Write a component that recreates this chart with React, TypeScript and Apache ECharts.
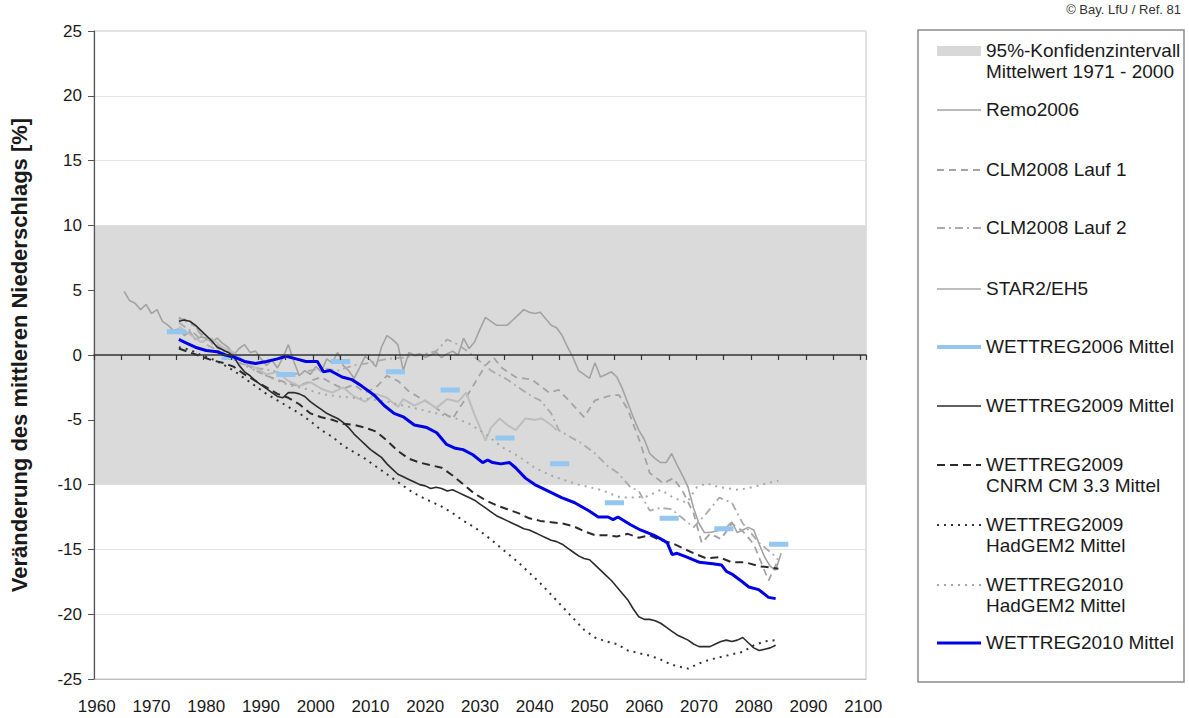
import React, { useEffect, useRef } from "react";
import * as echarts from "echarts";

// ---------- data ----------
const xLabelYears = [1960, 1970, 1980, 1990, 2000, 2010, 2020, 2030, 2040, 2050, 2060, 2070, 2080, 2090, 2100];
const yTicks = { min: -25, max: 25, step: 5 };
const confidenceBand = [-10, 10];

const remo2006 = [[1965,4.9],[1966,4.2],[1967,4.0],[1968,3.5],[1969,3.9],[1970,3.2],[1971,3.5],[1972,2.6],[1973,2.3],[1974,1.9],[1975,2.0],[1976,1.5],[1977,1.8],[1978,1.2],[1979,1.4],[1980,1.3],[1981,1.0],[1982,1.3],[1983,0.9],[1984,0.6],[1985,0.0],[1986,0.5],[1987,0.8],[1988,0.2],[1989,0.3],[1990,-0.3],[1991,-0.8],[1992,-0.4],[1993,-1.0],[1994,-0.2],[1995,0.8],[1996,-0.5],[1997,-1.6],[1998,-1.2],[1999,-1.5],[2000,-0.9],[2001,-1.3],[2002,-0.3],[2003,-0.6],[2004,0.2],[2005,-0.8],[2006,-1.2],[2007,-1.8],[2008,-1.0],[2009,-0.1],[2010,-0.4],[2011,-0.9],[2012,0.6],[2013,1.5],[2014,1.2],[2015,0.8],[2016,-1.2],[2017,0.2],[2018,0.0],[2019,0.1],[2020,-0.2],[2021,0.0],[2022,0.2],[2023,-0.2],[2024,0.1],[2025,0.3],[2026,0.0],[2027,1.3],[2028,0.5],[2029,1.0],[2030,2.0],[2031,2.9],[2032,2.6],[2033,2.3],[2034,2.3],[2035,2.3],[2036,2.7],[2037,3.1],[2038,3.5],[2039,3.3],[2040,3.2],[2041,3.3],[2042,2.8],[2043,2.3],[2044,2.1],[2045,1.5],[2046,0.6],[2047,-0.2],[2048,-1.2],[2049,-1.5],[2050,-1.8],[2051,-0.6],[2052,-1.7],[2053,-1.5],[2054,-1.3],[2055,-1.7],[2056,-2.6],[2057,-3.7],[2058,-4.8],[2059,-5.8],[2060,-6.5],[2061,-7.6],[2062,-8.0],[2063,-8.3],[2064,-8.3],[2065,-7.6],[2066,-8.5],[2067,-9.3],[2068,-10.2],[2069,-11.8],[2070,-13.0],[2071,-13.7],[2072,-13.7],[2073,-13.6],[2074,-13.5],[2075,-13.3],[2076,-12.9],[2077,-13.7],[2078,-13.5],[2079,-13.3],[2080,-13.5],[2081,-14.6],[2082,-15.6],[2083,-16.3],[2084,-16.6],[2085,-15.3]];

const clm2008Lauf1 = [[1975,2.8],[1977,2.7],[1979,1.6],[1981,1.0],[1983,0.5],[1985,0.1],[1987,-0.6],[1989,-1.2],[1991,-1.6],[1993,-1.9],[1995,-2.2],[1997,-2.4],[1999,-2.0],[2001,-1.7],[2003,-2.2],[2005,-2.6],[2007,-2.3],[2009,-2.9],[2011,-2.5],[2013,-1.6],[2015,-2.0],[2017,-2.8],[2019,-3.3],[2021,-3.8],[2023,-4.4],[2025,-4.9],[2027,-3.6],[2029,-2.2],[2031,-0.8],[2032.5,-0.2],[2034,-1.0],[2036.5,-1.7],[2039.5,-1.9],[2042.6,-2.9],[2044.4,-2.7],[2047.3,-4.0],[2049,-4.8],[2051,-3.5],[2054,-3.1],[2055.4,-3.1],[2057,-4.2],[2059.3,-6.8],[2061,-9.1],[2063.5,-9.9],[2065.3,-9.5],[2067,-10.5],[2069,-12.2],[2070.5,-14.5],[2072,-13.8],[2074,-14.2],[2076,-13.0],[2078,-13.6],[2080,-14.6],[2082.7,-17.4],[2084.5,-15.8]];

const clm2008Lauf2 = [[1975,2.5],[1978,1.6],[1980,0.8],[1983,0.2],[1986,-0.6],[1989,-1.0],[1992,-1.2],[1995,-1.6],[1998,-1.3],[2001,-1.0],[2004,-1.2],[2007,-0.8],[2010,-0.6],[2013,-0.3],[2016,-0.2],[2019,0.0],[2022,0.3],[2024,1.2],[2026,0.8],[2028,0.2],[2030,-0.5],[2032,-1.2],[2035,-1.9],[2037,-2.5],[2039.5,-3.2],[2041,-3.5],[2043,-4.5],[2044.4,-5.8],[2046,-6.2],[2048.5,-6.8],[2051,-7.6],[2053.4,-8.6],[2055.2,-9.1],[2057.5,-10.2],[2059,-10.5],[2061,-12.0],[2063,-11.8],[2065,-11.9],[2067,-12.6],[2069,-13.3],[2071.4,-12.2],[2073.7,-11.0],[2076,-11.4],[2078,-13.0],[2081,-14.5],[2083.3,-15.3],[2084.5,-15.8]];

const star2Eh5 = [[1975,2.2],[1977,1.6],[1979,1.0],[1981,1.3],[1983,0.6],[1985,0.2],[1987,-0.5],[1989,-1.0],[1991,-1.5],[1993,-1.3],[1995,-2.0],[1997,-2.4],[1999,-2.1],[2001,-2.6],[2003,-2.9],[2005,-2.5],[2007,-3.2],[2009,-3.6],[2011,-3.0],[2013,-3.3],[2015,-4.0],[2016,-3.4],[2018,-3.9],[2020,-3.5],[2022,-4.1],[2024,-3.4],[2026,-3.6],[2027.5,-2.9],[2029,-4.6],[2031,-6.6],[2032,-5.6],[2033.6,-4.9],[2035,-5.4],[2036.5,-5.8],[2038.3,-4.9],[2040,-5.0],[2041.3,-4.9],[2043,-5.4],[2044,-5.8]];

const wettreg2006Years = [1975, 1985, 1995, 2005, 2015, 2025, 2035, 2045, 2055, 2065, 2075, 2085];
const wettreg2006Values = [1.8, -0.2, -1.5, -0.5, -1.3, -2.7, -6.4, -8.4, -11.4, -12.6, -13.4, -14.6];

const wettreg2009 = [[1975,2.6],[1976,2.7],[1977,2.6],[1978,2.3],[1979,1.9],[1980,1.5],[1981,1.1],[1982,0.6],[1983,0.4],[1984,0.2],[1985,-0.1],[1986,-0.8],[1987,-1.3],[1988,-1.6],[1989,-2.0],[1990,-2.3],[1991,-2.6],[1992,-2.9],[1993,-3.2],[1994,-3.3],[1995,-2.9],[1996,-2.9],[1997,-3.0],[1998,-3.2],[1999,-3.6],[2000,-3.9],[2001,-4.2],[2002,-4.5],[2003,-4.7],[2004,-4.9],[2005,-5.2],[2006,-5.6],[2007,-6.1],[2008,-6.5],[2009,-6.9],[2010,-7.3],[2011,-7.6],[2012,-7.9],[2013,-8.4],[2014,-8.8],[2015,-9.2],[2016,-9.4],[2017,-9.6],[2018,-9.8],[2019,-10.0],[2020,-10.1],[2021,-10.3],[2022,-10.2],[2023,-10.3],[2024,-10.5],[2025,-10.4],[2026,-10.6],[2027,-10.8],[2028,-11.0],[2029,-11.2],[2030,-11.5],[2031,-11.8],[2032,-12.1],[2033,-12.4],[2034,-12.6],[2035,-12.8],[2036,-13.0],[2037,-13.2],[2038,-13.4],[2039,-13.5],[2040,-13.7],[2041,-13.9],[2042,-14.1],[2043,-14.3],[2044,-14.4],[2045,-14.6],[2046,-14.9],[2047,-15.2],[2048,-15.5],[2049,-15.7],[2050,-15.8],[2051,-16.2],[2052,-16.6],[2053,-17.0],[2054,-17.4],[2055,-17.9],[2056,-18.4],[2057,-18.9],[2058,-19.6],[2059,-20.2],[2060,-20.4],[2061,-20.4],[2062,-20.5],[2063,-20.7],[2064,-21.0],[2065,-21.3],[2066,-21.6],[2067,-21.8],[2068,-22.0],[2069,-22.3],[2070,-22.5],[2071,-22.5],[2072,-22.5],[2073,-22.3],[2074,-22.1],[2075,-22.0],[2076,-22.1],[2077,-22.0],[2078,-21.8],[2079,-22.2],[2080,-22.6],[2081,-22.8],[2082,-22.7],[2083,-22.6],[2084,-22.4]];

const wettreg2009Cnrm = [[1975,0.5],[1977,0.2],[1979,-0.1],[1981,-0.4],[1983,-0.6],[1985,-0.9],[1987,-1.5],[1989,-2.0],[1991,-2.5],[1993,-3.0],[1995,-3.3],[1997,-3.8],[1999,-4.5],[2001,-4.8],[2003,-5.0],[2005,-5.3],[2007,-5.4],[2009,-5.6],[2011,-5.9],[2013,-6.6],[2015,-7.4],[2017,-8.0],[2019,-8.3],[2021,-8.5],[2023,-8.7],[2025,-9.3],[2027,-10.0],[2029,-10.7],[2031,-11.2],[2033,-11.6],[2035,-11.9],[2037,-12.2],[2039,-12.6],[2041,-12.8],[2043,-12.9],[2045,-13.0],[2047,-13.2],[2049,-13.6],[2051,-13.9],[2053,-13.9],[2055,-14.0],[2057,-13.8],[2059,-14.1],[2061,-13.9],[2063,-14.3],[2065,-14.5],[2067,-14.9],[2069.6,-15.4],[2071.4,-15.7],[2073.7,-15.6],[2076,-16.0],[2078.5,-16.0],[2081,-16.3],[2083.3,-16.4],[2084.5,-16.5]];

const wettreg2009HadGem2 = [[1975,0.6],[1977,0.4],[1979,0.0],[1981,-0.3],[1983,-0.7],[1985,-1.2],[1987,-1.8],[1989,-2.4],[1991,-3.0],[1993,-3.5],[1995,-4.0],[1997,-4.5],[1999,-5.1],[2001,-5.8],[2003,-6.3],[2005,-7.0],[2007,-7.5],[2009,-8.0],[2011,-8.6],[2013,-9.2],[2015,-9.8],[2017,-10.4],[2019,-10.9],[2021,-11.3],[2023,-11.7],[2025,-12.2],[2027,-12.8],[2029,-13.3],[2031,-13.9],[2033,-14.6],[2035,-15.3],[2037,-16.0],[2039,-16.8],[2041,-17.6],[2043,-18.5],[2045,-19.4],[2047,-20.3],[2049,-21.2],[2051,-21.8],[2053,-22.1],[2055,-22.3],[2057,-22.8],[2059,-23.0],[2061,-23.2],[2063,-23.5],[2065,-23.9],[2067,-24.1],[2068,-24.2],[2070,-23.8],[2072,-23.5],[2074,-23.3],[2076,-23.1],[2078,-22.9],[2080,-22.4],[2082,-22.1],[2084,-22.0]];

const wettreg2010HadGem2 = [[1975,2.9],[1978,2.2],[1980,1.2],[1983,0.3],[1986,-0.6],[1989,-1.2],[1992,-1.8],[1995,-2.3],[1998,-2.6],[2001,-3.0],[2004,-3.2],[2007,-3.3],[2010,-3.4],[2013,-3.6],[2016,-3.9],[2019,-4.2],[2022,-4.5],[2025,-4.8],[2028,-5.3],[2031,-6.1],[2034,-7.1],[2037,-7.8],[2040,-8.7],[2043,-9.3],[2045,-9.6],[2048,-10.0],[2052,-10.4],[2055.7,-11.0],[2058,-11.0],[2060.6,-10.9],[2063,-10.4],[2065.3,-11.0],[2067.8,-11.4],[2069.6,-10.2],[2071.4,-9.9],[2073.7,-10.2],[2077.3,-10.4],[2079.7,-10.2],[2083.3,-9.8],[2084.5,-9.7]];

const wettreg2010 = [[1975,1.2],[1976,1.0],[1978,0.6],[1980,0.35],[1982,0.25],[1983.5,0.0],[1985,-0.15],[1987,-0.5],[1989,-0.65],[1991,-0.5],[1993,-0.3],[1994.6,-0.1],[1996.4,-0.3],[1998.2,-0.5],[2000.3,-0.5],[2001.4,-1.3],[2002.6,-1.2],[2004.8,-1.7],[2006.6,-1.9],[2008.4,-2.4],[2010.7,-3.1],[2012.5,-3.9],[2014.3,-4.5],[2016.1,-4.8],[2018,-5.4],[2020.3,-5.6],[2022.1,-6.0],[2023.9,-6.9],[2025.5,-7.2],[2026.9,-7.3],[2028.7,-7.7],[2030.5,-8.3],[2031.4,-8.1],[2032.3,-8.3],[2033.8,-8.4],[2035.4,-8.3],[2036.5,-8.7],[2038.3,-9.5],[2040,-10.0],[2042,-10.4],[2044.9,-11.0],[2047.3,-11.4],[2049.8,-12.0],[2051.6,-12.5],[2053.4,-12.5],[2054.3,-12.7],[2055.2,-12.5],[2057.5,-13.1],[2059.3,-13.5],[2061.7,-13.9],[2063.5,-14.3],[2064.2,-14.5],[2065.1,-15.4],[2066,-15.3],[2067.8,-15.6],[2070.1,-16.0],[2072.5,-16.1],[2074.1,-16.2],[2075,-16.7],[2076,-16.9],[2077.9,-17.5],[2079.1,-17.9],[2080.9,-18.1],[2082.7,-18.7],[2084,-18.8]];

const legendLabels = [
  "95%-Konfidenzintervall\nMittelwert 1971 - 2000",
  "Remo2006",
  "CLM2008 Lauf 1",
  "CLM2008 Lauf 2",
  "STAR2/EH5",
  "WETTREG2006 Mittel",
  "WETTREG2009 Mittel",
  "WETTREG2009\nCNRM CM 3.3 Mittel",
  "WETTREG2009\nHadGEM2 Mittel",
  "WETTREG2010\nHadGEM2 Mittel",
  "WETTREG2010 Mittel",
];

// ---------- styles ----------
const FONT = "'Liberation Sans', Arial, Helvetica, sans-serif";
const styles = [
  { kind: "rect", color: "#d8d8d8" },
  { color: "#a3a3a3", width: 1.6, dash: null },
  { color: "#a3a3a3", width: 1.8, dash: [7, 5] },
  { color: "#ababab", width: 1.8, dash: [8, 4, 2, 4] },
  { color: "#bdbdbd", width: 2, dash: null },
  { color: "#94c6f0", width: 5, dash: null },
  { color: "#2b2b2b", width: 1.6, dash: null },
  { color: "#2b2b2b", width: 2, dash: [8, 5] },
  { color: "#333333", width: 2, dash: [2, 5] },
  { color: "#a8a8a8", width: 2, dash: [2, 5] },
  { color: "#0000e6", width: 3, dash: null },
];
const legendRowY = [51, 110, 170, 228, 289, 347, 406, 465, 525, 585, 643];

function buildSegments(years: number[], values: number[]) {
  const out: any[] = [];
  years.forEach((y, i) => {
    out.push([y - 2.2, values[i]]);
    out.push([y + 1.3, values[i]]);
    out.push([y + 1.3, "-"]);
  });
  return out;
}

export default function App() {
  const ref = useRef<HTMLDivElement>(null);
  useEffect(() => {
    if (!ref.current) return;
    const chart = echarts.init(ref.current, null, { renderer: "svg" });

    const line = (name: string, data: any[], idx: number, z: number) => {
      const s: any = styles[idx];
      return {
        type: "line",
        name,
        data,
        xAxisIndex: 0,
        yAxisIndex: 0,
        showSymbol: false,
        symbol: "none",
        silent: true,
        connectNulls: false,
        z,
        lineStyle: { color: s.color, width: s.width, type: s.dash || "solid", cap: "butt" },
      };
    };

    const graphic: any[] = [
      {
        type: "text",
        right: 8,
        top: 3,
        style: { text: "© Bay. LfU / Ref. 81", fontSize: 13, fontFamily: FONT, fill: "#333" },
      },
      {
        type: "rect",
        shape: { x: 918, y: 30, width: 266, height: 652 },
        style: { fill: "#ffffff", stroke: "#8c8c8c", lineWidth: 1.5 },
        z: 10,
      },
    ];
    legendLabels.forEach((label, i) => {
      const y = legendRowY[i];
      const s: any = styles[i];
      if (s.kind === "rect") {
        graphic.push({
          type: "rect",
          shape: { x: 937, y: y - 5, width: 44, height: 10 },
          style: { fill: s.color },
          z: 11,
        });
      } else {
        graphic.push({
          type: "line",
          shape: { x1: 937, y1: y, x2: 981, y2: y },
          style: { stroke: s.color, lineWidth: s.width === 5 ? 4 : s.width, lineDash: s.dash || null },
          z: 11,
        });
      }
      graphic.push({
        type: "text",
        x: 986,
        y: y - 11,
        style: {
          text: label,
          fontSize: 19,
          lineHeight: 21,
          fontFamily: FONT,
          fill: "#1a1a1a",
          verticalAlign: "top",
          textAlign: "left",
        },
        z: 11,
      });
    });

    chart.setOption({
      animation: false,
      textStyle: { fontFamily: FONT },
      grid: { left: 88, right: 323, top: 31, bottom: 39, show: true, borderColor: "#c4c4c4", borderWidth: 1, backgroundColor: "transparent" },
      xAxis: [
        {
          type: "value",
          min: 1959.5,
          max: 2100.5,
          position: "bottom",
          axisLine: { show: true, onZero: false, lineStyle: { color: "#bdbdbd" } },
          axisTick: { show: false },
          splitLine: { show: false },
          axisLabel: {
            customValues: xLabelYears,
            formatter: (v: number) => String(Math.round(v)),
            margin: 19,
            fontSize: 17,
            color: "#1a1a1a",
            fontFamily: FONT,
          },
        },
        {
          type: "value",
          min: 1959.5,
          max: 2100.5,
          interval: 5,
          position: "bottom",
          z: 6,
          axisLine: { show: true, onZero: true, onZeroAxisIndex: 0, lineStyle: { color: "#333", width: 1.5 } },
          axisTick: { show: true, length: 5, inside: false, lineStyle: { color: "#333", width: 1.2 } },
          axisLabel: { show: false },
          splitLine: { show: false },
        },
      ],
      yAxis: [
        {
          type: "value",
          min: yTicks.min,
          max: yTicks.max,
          interval: yTicks.step,
          z: 6,
          axisLine: { show: true, onZero: false, lineStyle: { color: "#555", width: 1.2 } },
          axisTick: { show: true, length: 6, lineStyle: { color: "#555" } },
          axisLabel: { fontSize: 17, color: "#1a1a1a", margin: 12, fontFamily: FONT },
          splitLine: { show: false },
          name: "Veränderung des mittleren Niederschlags [%]",
          nameLocation: "middle",
          nameGap: 64,
          nameRotate: 90,
          nameTextStyle: { fontWeight: "bold", fontSize: 22, color: "#1a1a1a", fontFamily: FONT },
        },
        {
          type: "value",
          min: yTicks.min,
          max: yTicks.max,
          interval: yTicks.step,
          position: "right",
          z: 0,
          axisLine: { show: false },
          axisTick: { show: false },
          axisLabel: { show: false },
          splitLine: { show: true, lineStyle: { color: "#e4e4e4", width: 1 } },
        },
      ],
      series: [
        {
          type: "line",
          name: "band",
          data: [],
          xAxisIndex: 0,
          yAxisIndex: 0,
          silent: true,
          z: 1,
          markArea: {
            silent: true,
            itemStyle: { color: "#dadada" },
            data: [[{ yAxis: confidenceBand[1] }, { yAxis: confidenceBand[0] }]],
          },
        },
        line("Remo2006", remo2006, 1, 2),
        line("CLM2008 Lauf 1", clm2008Lauf1, 2, 2),
        line("CLM2008 Lauf 2", clm2008Lauf2, 3, 2),
        line("STAR2/EH5", star2Eh5, 4, 2),
        line("WETTREG2010 HadGEM2 Mittel", wettreg2010HadGem2, 9, 2),
        line("WETTREG2006 Mittel", buildSegments(wettreg2006Years, wettreg2006Values), 5, 3),
        line("WETTREG2009 Mittel", wettreg2009, 6, 4),
        line("WETTREG2009 CNRM CM 3.3 Mittel", wettreg2009Cnrm, 7, 4),
        line("WETTREG2009 HadGEM2 Mittel", wettreg2009HadGem2, 8, 4),
        line("WETTREG2010 Mittel", wettreg2010, 10, 5),
      ],
      graphic,
    });

    return () => chart.dispose();
  }, []);

  return (
    <div
      ref={ref}
      style={{ position: "absolute", left: 0, top: 0, width: 1189, height: 718, background: "#fff" }}
    />
  );
}
